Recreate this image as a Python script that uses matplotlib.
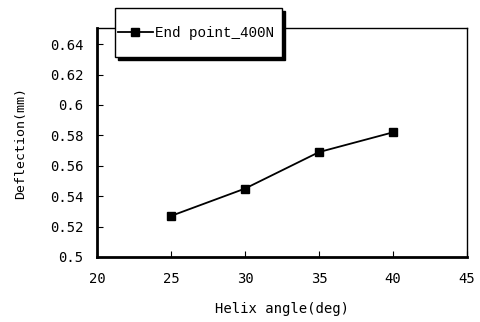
import matplotlib
matplotlib.use('Agg')
import matplotlib.pyplot as plt
from matplotlib.patches import Rectangle
from matplotlib.lines import Line2D

# data
helix_angle = [25, 30, 35, 40]
deflection = [0.527, 0.545, 0.569, 0.582]
series_name = 'End point_400N'

x_ticks = [20, 25, 30, 35, 40, 45]
y_ticks = [0.5, 0.52, 0.54, 0.56, 0.58, 0.6, 0.62, 0.64]
y_tick_labels = ['0.5', '0.52', '0.54', '0.56', '0.58', '0.6', '0.62', '0.64']

fig = plt.figure(figsize=(4.81, 3.22), dpi=100)
ax = fig.add_axes([0.2017, 0.2019, 0.7693, 0.7111])

ax.plot(helix_angle, deflection, color='black', lw=1.3, marker='s',
        markersize=6.3, label=series_name)

ax.set_xlim(20, 45)
ax.set_ylim(0.5, 0.6506)
ax.set_xticks(x_ticks)
ax.set_xticklabels([str(v) for v in x_ticks])
ax.set_yticks(y_ticks)
ax.set_yticklabels(y_tick_labels)

ax.tick_params(direction='in', length=4, width=0.8, labelsize=10)
ax.tick_params(axis='x', pad=11)
ax.tick_params(axis='y', pad=10)
for lab in ax.get_xticklabels() + ax.get_yticklabels():
    lab.set_family('DejaVu Sans Mono')

for side in ['left', 'bottom']:
    ax.spines[side].set_linewidth(2.0)
for side in ['top', 'right']:
    ax.spines[side].set_linewidth(1.0)

ax.set_xlabel('Helix angle(deg)', family='DejaVu Sans Mono', fontsize=10, labelpad=11)
ax.set_ylabel('Deflection(mm)', family='DejaVu Sans Mono', fontsize=9.5, labelpad=16)

# legend box with a hard black shadow, like the old spreadsheet style
W, H = 481, 322
bx0, by0, bx1, by1 = 115, 8, 282, 57
shadow = Rectangle(((bx0 + 3) / W, 1 - (by1 + 3) / H), (bx1 - bx0) / W, (by1 - by0) / H,
                   transform=fig.transFigure, facecolor='black', edgecolor='black', zorder=6)
frame = Rectangle((bx0 / W, 1 - by1 / H), (bx1 - bx0) / W, (by1 - by0) / H,
                  transform=fig.transFigure, facecolor='white', edgecolor='black',
                  lw=1.0, zorder=7)
fig.patches.extend([shadow, frame])

handle = Line2D([0], [0], color='black', lw=1.3, marker='s', markersize=6.3)
leg = fig.legend([handle], [series_name], loc='center left',
                 bbox_to_anchor=(bx0 / W - 0.02, 1 - 33 / H), frameon=False,
                 handlelength=2.4, handletextpad=0.15,
                 prop={'family': 'Liberation Mono', 'size': 10.3})
leg.set_zorder(8)

fig.savefig('out.png', dpi=100)
